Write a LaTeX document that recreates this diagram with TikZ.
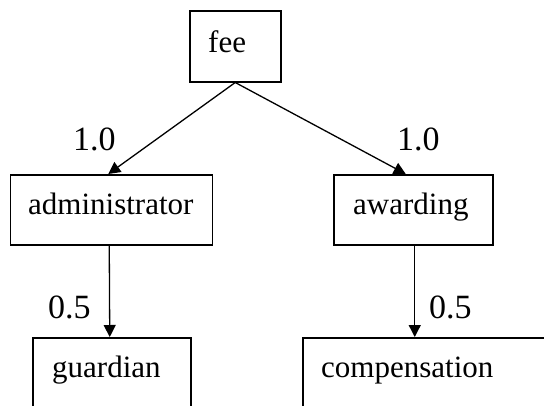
\documentclass[tikz,border=0pt]{standalone}
\usepackage{fontspec}
\setmainfont{Liberation Serif}
\usetikzlibrary{arrows.meta}
\begin{document}
\begin{tikzpicture}[x=1pt,y=-1pt,
  box/.style={draw=black,line width=1.5pt,rectangle,inner sep=0pt,anchor=north west},
  word/.style={anchor=base west,inner sep=0pt,font=\fontsize{31}{36}\selectfont},
  weight/.style={anchor=base west,inner sep=0pt,font=\fontsize{34}{40}\selectfont},
  link/.style={line width=1.3pt,-{Triangle[length=12pt,width=12pt]}}]
  \useasboundingbox (0,0) rectangle (544,405);
  \clip (0,0) rectangle (544,405);
  % boxes
  \node[box,minimum width=91pt,minimum height=71pt] (fee) at (189,10) {};
  \node[box,minimum width=202pt,minimum height=70pt] (admin) at (9.5,174) {};
  \node[box,minimum width=159pt,minimum height=70pt] (award) at (333,174) {};
  \node[box,minimum width=158pt,minimum height=90pt] (guard) at (32,337) {};
  \node[box,minimum width=260pt,minimum height=90pt] (comp) at (302,337) {};
  % words
  \node[word] (tfee) at (208,52) {fee};
  \node[word] (tadmin) at (28,214) {administrator};
  \node[word] (taward) at (353,214) {awarding};
  \node[word] (tguard) at (52,377) {guardian};
  \node[word] (tcomp) at (321,377) {compensation};
  % connectors
  \draw[link] (fee.south) -- ([xshift=-3pt]admin.north);
  \draw[link] (fee.south) -- ([xshift=-7.5pt]award.north);
  \draw[link] ([xshift=-2pt]admin.south) -- ([xshift=-2pt]guard.north);
  \draw[link] ([xshift=1.5pt]award.south) -- ([xshift=1.5pt]award.south |- comp.north);
  % weights
  \node[weight] (w1) at (73,150) {1.0};
  \node[weight] (w2) at (397,150) {1.0};
  \node[weight] (w3) at (48,318) {0.5};
  \node[weight] (w4) at (429,318) {0.5};
\end{tikzpicture}
\end{document}
